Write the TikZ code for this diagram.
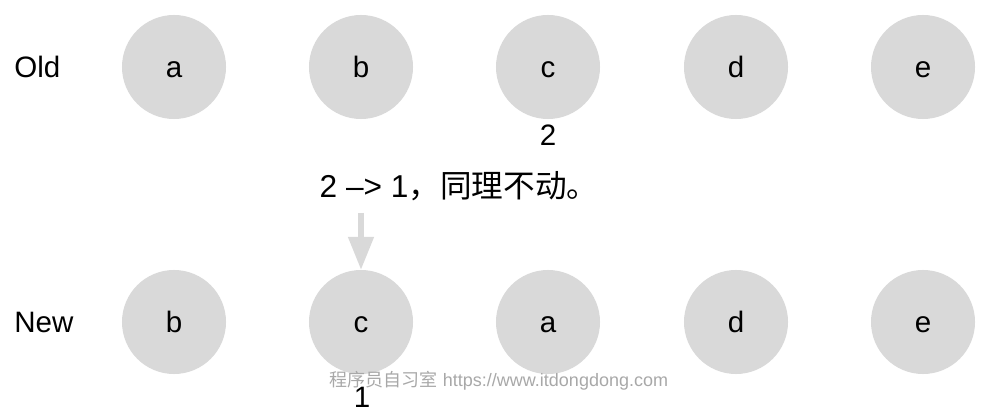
\documentclass[tikz,border=0pt]{standalone}
\usepackage{fontspec}
\setmainfont{Liberation Sans}
\newfontfamily\cjk{Noto Sans CJK SC}
\usetikzlibrary{arrows.meta}
\definecolor{ballgray}{HTML}{D9D9D9}
\definecolor{markgray}{HTML}{A8A8A8}

\begin{document}
\begin{tikzpicture}[
    x=0.025cm, y=-0.025cm,
    font=\fontsize{21}{24}\selectfont,
    ball/.style={circle,fill=ballgray,minimum size=2.6cm,inner sep=0pt,
        text height=14.5pt,text depth=0pt},
    rowlabel/.style={anchor=west,inner sep=0pt},
    pointer/.style={-{Triangle[length=0.82cm,width=0.62cm]},line width=0.13cm,draw=ballgray}
]
\useasboundingbox (0,0) rectangle (998,412);

% Old row
\node[rowlabel] (old) at (14,67) {Old};
\node[ball] (oa) at (174,67) {a};
\node[ball] (ob) at (361,67) {b};
\node[ball] (oc) at (548,67) {c};
\node[ball] (od) at (736,67) {d};
\node[ball] (oe) at (923,67) {e};

% New row
\node[rowlabel] (new) at (14,322) {New};
\node[ball] (na) at (174,322) {b};
\node[ball] (nb) at (361,322) {c};
\node[ball] (nc) at (548,322) {a};
\node[ball] (nd) at (736,322) {d};
\node[ball] (ne) at (923,322) {e};

% Indices
\node (oldidx) at (548,135) {2};
\node (newidx) at (362,397) {1};

% Step note
\node[font=\fontsize{22.5}{26}\selectfont] (note) at (459,186) {2 –> 1{\cjk ，同理不动。}};

% Pointer into the new row
\coordinate (tail) at (361,213);
\draw[pointer] (tail) -- (nb.north);

% Watermark
\node[text=markgray,font=\fontsize{12.8}{15}\selectfont] (mark) at (499,381) {{\cjk 程序员自习室} https://www.itdongdong.com};

\end{tikzpicture}
\end{document}
